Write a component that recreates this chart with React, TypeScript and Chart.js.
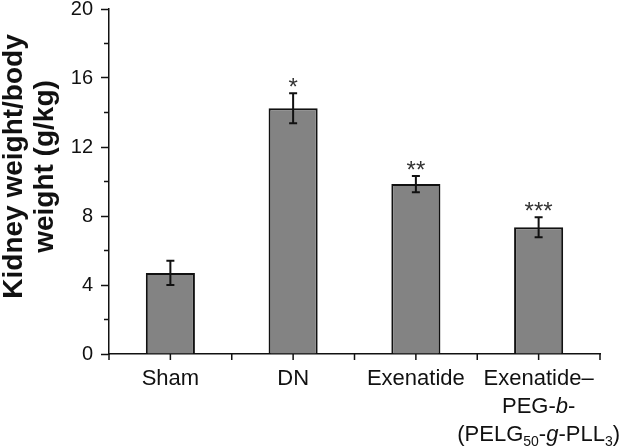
import React, { useEffect, useRef } from 'react';
import { Chart, registerables } from 'chart.js';

Chart.register(...registerables);

// ---- data ----
const categories = ['Sham', 'DN', 'Exenatide', 'Exenatide–PEG-b-(PELG50-g-PLL3)'];
const means = [4.7, 14.25, 9.85, 7.35];
const errors = [0.7, 0.87, 0.47, 0.58];
const significance = ['', '*', '**', '***'];
const yMajorStep = 4;
const yMinorStep = 2;
const yMax = 20;
const yTitle = ['Kidney weight/body', 'weight (g/kg)'];

// rich x-axis labels: [text, style] with n = normal, i = italic, s = subscript
type Seg = [string, 'n' | 'i' | 's'];
const xLabelLines: Seg[][][] = [
  [[['Sham', 'n']]],
  [[['DN', 'n']]],
  [[['Exenatide', 'n']]],
  [
    [['Exenatide–', 'n']],
    [['PEG-', 'n'], ['b', 'i'], ['-', 'n']],
    [['(PELG', 'n'], ['50', 's'], ['-', 'n'], ['g', 'i'], ['-PLL', 'n'], ['3', 's'], [')', 'n']],
  ],
];

const FONT = "'Liberation Sans', Arial, Helvetica, sans-serif";
const INK = '#111';

function segFont(style: string) {
  if (style === 'i') return `italic 22px ${FONT}`;
  if (style === 's') return `14px ${FONT}`;
  return `22px ${FONT}`;
}

const annotations = {
  id: 'annotations',
  afterDraw(chart: any) {
    const { ctx, chartArea } = chart;
    const x = chart.scales.x;
    const y = chart.scales.y;
    ctx.save();

    // error bars + significance marks
    ctx.strokeStyle = INK;
    ctx.lineWidth = 2;
    means.forEach((m, i) => {
      const cx = x.getPixelForValue(i);
      const top = y.getPixelForValue(m + errors[i]);
      const bot = y.getPixelForValue(m - errors[i]);
      ctx.beginPath();
      ctx.moveTo(cx, top);
      ctx.lineTo(cx, bot);
      ctx.moveTo(cx - 4, top);
      ctx.lineTo(cx + 4, top);
      ctx.moveTo(cx - 4, bot);
      ctx.lineTo(cx + 4, bot);
      ctx.stroke();
      if (significance[i]) {
        ctx.fillStyle = '#333';
        ctx.font = `24px ${FONT}`;
        ctx.textAlign = 'center';
        ctx.textBaseline = 'alphabetic';
        ctx.fillText(significance[i], cx, top + 2);
      }
    });

    // x-axis tick marks at centres and boundaries
    ctx.lineWidth = 1.5;
    ctx.beginPath();
    for (let i = 0; i <= categories.length; i++) {
      const pb = x.getPixelForValue(i - 0.5);
      ctx.moveTo(pb, chartArea.bottom);
      ctx.lineTo(pb, chartArea.bottom + 6);
      if (i < categories.length) {
        const pc = x.getPixelForValue(i);
        ctx.moveTo(pc, chartArea.bottom);
        ctx.lineTo(pc, chartArea.bottom + 6);
      }
    }
    // minor y ticks
    for (let v = yMinorStep; v < yMax; v += yMajorStep) {
      const py = y.getPixelForValue(v);
      ctx.moveTo(chartArea.left - 5, py);
      ctx.lineTo(chartArea.left, py);
    }
    ctx.stroke();

    // x labels
    ctx.fillStyle = INK;
    ctx.textAlign = 'left';
    ctx.textBaseline = 'alphabetic';
    xLabelLines.forEach((lines, i) => {
      const cx = x.getPixelForValue(i);
      lines.forEach((segs, k) => {
        let w = 0;
        segs.forEach(([t, s]) => {
          ctx.font = segFont(s);
          w += ctx.measureText(t).width;
        });
        let px = cx - w / 2;
        const base = chartArea.bottom + 31 + k * 28;
        segs.forEach(([t, s]) => {
          ctx.font = segFont(s);
          ctx.fillText(t, px, s === 's' ? base + 5 : base);
          px += ctx.measureText(t).width;
        });
      });
    });

    // y title
    ctx.fillStyle = INK;
    ctx.font = `bold 28px ${FONT}`;
    ctx.textAlign = 'center';
    const cy = (chartArea.top + chartArea.bottom) / 2 - 15;
    yTitle.forEach((line, k) => {
      ctx.save();
      ctx.translate(chartArea.left - 87 + k * 31, cy);
      ctx.rotate(-Math.PI / 2);
      ctx.fillText(line, 0, 0);
      ctx.restore();
    });

    ctx.restore();
  },
};

export default function App() {
  const ref = useRef<HTMLCanvasElement | null>(null);

  useEffect(() => {
    if (!ref.current) return;
    const chart = new Chart(ref.current, {
      type: 'bar',
      data: {
        labels: categories,
        datasets: [
          {
            data: means,
            backgroundColor: '#838383',
            borderColor: INK,
            borderWidth: 2,
            barPercentage: 0.8,
            categoryPercentage: 0.5,
          },
        ],
      },
      options: {
        animation: false,
        responsive: true,
        maintainAspectRatio: false,
        layout: { padding: { top: 9, right: 20, left: 0, bottom: 0 } },
        plugins: { legend: { display: false }, tooltip: { enabled: false } },
        scales: {
          x: {
            offset: true,
            grid: { display: false },
            border: { display: true, color: INK, width: 1.5 },
            ticks: { display: false },
            afterFit: (s: any) => {
              s.height = 92;
              s.paddingLeft = 0;
              s.paddingRight = 0;
            },
          },
          y: {
            min: 0,
            max: yMax,
            grid: {
              drawOnChartArea: false,
              drawTicks: true,
              tickLength: 8,
              tickWidth: 1.5,
              tickColor: (c: any) => (c.tick && c.tick.value % yMajorStep === 0 ? INK : 'rgba(0,0,0,0)'),
            },
            border: { display: true, color: INK, width: 1.5 },
            ticks: {
              stepSize: yMinorStep,
              padding: 8,
              color: INK,
              font: { family: FONT, size: 20 },
              callback: (v: any) => (Number(v) % yMajorStep === 0 ? String(v) : ''),
            },
            afterFit: (s: any) => {
              s.width = 109;
              s.paddingTop = 0;
              s.paddingBottom = 0;
            },
          },
        },
      },
      plugins: [annotations],
    });
    return () => chart.destroy();
  }, []);

  return (
    <div style={{ position: 'fixed', left: 0, top: 0, width: 620, height: 446, background: '#fff' }}>
      <canvas ref={ref} />
    </div>
  );
}
